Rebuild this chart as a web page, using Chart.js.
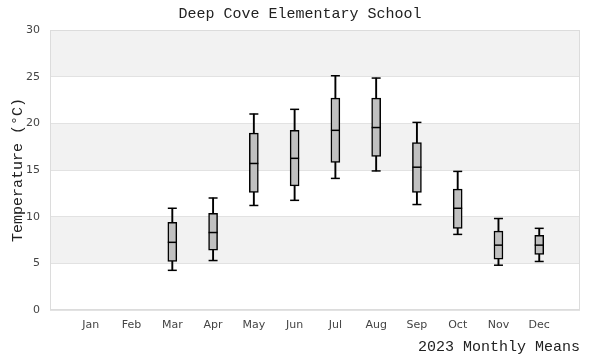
<!DOCTYPE html>
<html>
<head>
<meta charset="utf-8">
<script src="https://cdn.jsdelivr.net/npm/chart.js@4/dist/chart.umd.min.js"></script>
<style>
  html, body { margin: 0; padding: 0; background: #ffffff; }
  #wrap { width: 600px; height: 360px; }
</style>
</head>
<body>
<div id="wrap"><canvas id="c" width="600" height="360"></canvas></div>
<script>
const months = ['Jan','Feb','Mar','Apr','May','Jun','Jul','Aug','Sep','Oct','Nov','Dec'];
const minVals = [null, null, 4.25, 5.3, 11.2, 11.75, 14.1, 14.9, 11.3, 8.1, 4.8, 5.2];
const q1Vals  = [null, null, 5.2, 6.4, 12.6, 13.3, 15.8, 16.45, 12.6, 8.75, 5.45, 5.95];
const medVals = [null, null, 7.25, 8.3, 15.7, 16.25, 19.25, 19.55, 15.3, 10.9, 6.95, 6.95];
const q3Vals  = [null, null, 9.4, 10.35, 18.95, 19.25, 22.7, 22.7, 17.95, 12.95, 8.45, 8.0];
const maxVals = [null, null, 10.9, 12.0, 21.0, 21.5, 25.1, 24.85, 20.1, 14.85, 9.8, 8.75];
const yTicks = [0, 5, 10, 15, 20, 25, 30];
const titleText = 'Deep Cove Elementary School';
const xTitle = '2023 Monthly Means';
const yTitle = 'Temperature (°C)';

// pad one empty slot at each end of the category axis
const labels = [''].concat(months, ['']);
const pad = arr => [null].concat(arr, [null]);
const rangeOf = (a, b) => pad(a.map((v, i) => (v === null ? null : [v, b[i]])));

const mono = 'Liberation Mono';
const sans = 'DejaVu Sans';

const bandsPlugin = {
  id: 'bands',
  beforeDraw(chart) {
    const { ctx, chartArea } = chart;
    const y = chart.scales.y;
    ctx.save();
    ctx.fillStyle = '#f2f2f2';
    for (let i = yTicks.length - 1; i > 0; i -= 2) {
      const top = y.getPixelForValue(yTicks[i]);
      const bot = y.getPixelForValue(yTicks[i - 1]);
      ctx.fillRect(chartArea.left, top, chartArea.right - chartArea.left, bot - top);
    }
    ctx.restore();
  },
  beforeDatasetsDraw(chart) {
    const { ctx, chartArea } = chart;
    ctx.save();
    ctx.strokeStyle = '#dcdcdc';
    ctx.lineWidth = 1;
    ctx.strokeRect(chartArea.left + 0.5, chartArea.top + 0.5,
                   chartArea.right - chartArea.left - 1, chartArea.bottom - chartArea.top - 1);
    ctx.restore();
  }
};

const capStyle = {
  type: 'line',
  showLine: false,
  pointStyle: 'line',
  pointRadius: 4.5,
  pointBorderWidth: 1.5,
  borderColor: '#000000',
  backgroundColor: '#000000',
  order: 1
};

new Chart(document.getElementById('c'), {
  type: 'bar',
  data: {
    labels: labels,
    datasets: [
      {
        label: 'whisker',
        data: rangeOf(minVals, maxVals),
        backgroundColor: '#000000',
        borderWidth: 0,
        barThickness: 1.25,
        grouped: false,
        order: 3
      },
      {
        label: 'box',
        data: rangeOf(q1Vals, q3Vals),
        backgroundColor: '#c0c0c0',
        borderColor: '#000000',
        borderWidth: 1.5,
        borderSkipped: false,
        barThickness: 9,
        grouped: false,
        order: 2
      },
      Object.assign({ label: 'median', data: pad(medVals) }, capStyle),
      Object.assign({ label: 'min', data: pad(minVals) }, capStyle),
      Object.assign({ label: 'max', data: pad(maxVals) }, capStyle)
    ]
  },
  options: {
    responsive: false,
    animation: false,
    layout: { padding: { left: 0, right: 0, top: 0, bottom: 0 } },
    plugins: {
      legend: { display: false },
      tooltip: { enabled: false },
      title: {
        display: true,
        text: titleText,
        color: '#222222',
        font: { family: mono, size: 15, weight: 'normal', lineHeight: 1.2 },
        padding: { top: 5, bottom: 7 }
      }
    },
    scales: {
      x: {
        type: 'category',
        offset: false,
        grid: { display: false, drawTicks: false },
        border: { display: false },
        ticks: {
          color: '#444444',
          font: { family: sans, size: 11 },
          padding: 9,
          autoSkip: false,
          maxRotation: 0
        },
        title: {
          display: true,
          text: xTitle,
          align: 'end',
          color: '#222222',
          font: { family: mono, size: 15, weight: 'normal', lineHeight: 1.2 },
          padding: { top: 0, bottom: 4 }
        },
        afterFit(scale) { scale.height = 50; }
      },
      y: {
        min: 0,
        max: 30,
        afterBuildTicks(scale) { scale.ticks = yTicks.map(v => ({ value: v })); },
        grid: { color: '#e2e2e2', lineWidth: 1, drawTicks: false },
        border: { display: false },
        ticks: {
          color: '#444444',
          font: { family: sans, size: 11 },
          padding: 10
        },
        title: {
          display: true,
          text: yTitle,
          color: '#222222',
          font: { family: mono, size: 15, weight: 'normal', lineHeight: 1.2 },
          padding: { top: 9, bottom: 0 }
        },
        afterFit(scale) { scale.width = 50; }
      },
      yr: {
        position: 'right',
        min: 0,
        max: 30,
        grid: { display: false, drawTicks: false },
        border: { display: false },
        ticks: { display: false },
        afterFit(scale) { scale.width = 20; }
      }
    }
  },
  plugins: [bandsPlugin]
});
</script>
</body>
</html>
